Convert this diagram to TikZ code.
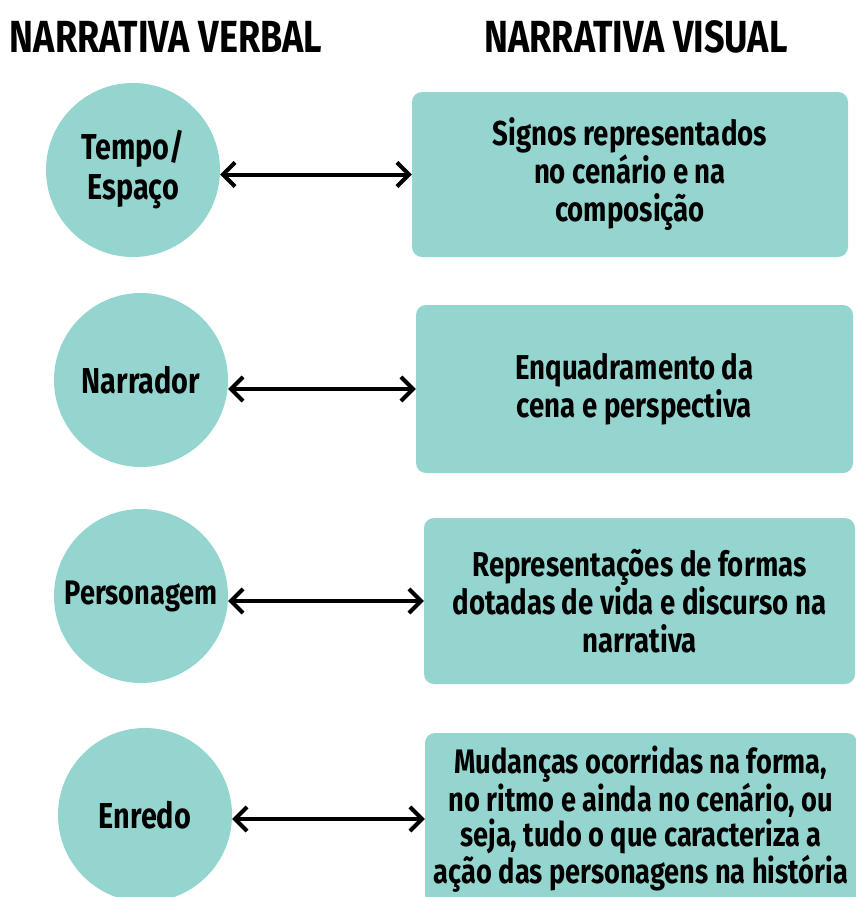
\documentclass[tikz,border=0pt]{standalone}
\usepackage{fontspec}
\setmainfont{Fira Sans}[FakeStretch=0.8]
\usepackage{tikz}
\usetikzlibrary{arrows.meta}
\definecolor{diagteal}{HTML}{95D5D0}

\begin{document}
\begin{tikzpicture}[
    x=1pt, y=-1pt,
    every node/.style={font=\bfseries, text=black},
    heading/.style={font=\bfseries\fontsize{45}{48}\selectfont},
    verbal/.style={circle, fill=diagteal, minimum size=174pt, inner sep=0pt, align=center, font=\bfseries\fontsize{36}{40}\selectfont},
    visual/.style={rounded corners=10pt, fill=diagteal, inner sep=0pt, align=center, font=\bfseries\fontsize{34.5}{38}\selectfont}
]
    \useasboundingbox (0,0) rectangle (855,897);

    \node[heading] (hverbal) at (166,37) {NARRATIVA VERBAL};
    \node[heading] (hvisual) at (636,37) {NARRATIVA VISUAL};

    \node[verbal] (tempo) at (133,170) {Tempo/\\Espaço};
    \node[verbal] (narrador) at (141,380) {Narrador};
    \node[verbal, font=\bfseries\fontsize{34}{40}\selectfont] (personagem) at (141,596) {Personagem};
    \node[verbal] (enredo) at (145,815) {Enredo};

    \node[visual, minimum width=436pt, minimum height=165pt] (signos) at (630,174.5) {Signos representados\\no cenário e na\\composição};
    \node[visual, minimum width=437pt, minimum height=168pt] (enquadramento) at (634.5,389) {Enquadramento da\\cena e perspectiva};
    \node[visual, minimum width=431pt, minimum height=166pt] (representacoes) at (639.5,601) {Representações de formas\\dotadas de vida e discurso na\\narrativa};
    \node[visual, minimum width=432pt, minimum height=172pt, font=\bfseries\fontsize{34}{34.5}\selectfont] (mudancas) at (641,819) {Mudanças ocorridas na forma,\\no ritmo e ainda no cenário, ou\\seja, tudo o que caracteriza a\\ação das personagens na história};

    \draw[{Straight Barb[length=12pt,width=24pt]}-{Straight Barb[length=12pt,width=24pt]}, line width=4pt, line cap=round] (tempo.east |- signos.west) -- (signos.west);
    \draw[{Straight Barb[length=12pt,width=24pt]}-{Straight Barb[length=12pt,width=24pt]}, line width=4pt, line cap=round] (narrador.east |- enquadramento.west) -- (enquadramento.west);
    \draw[{Straight Barb[length=12pt,width=24pt]}-{Straight Barb[length=12pt,width=24pt]}, line width=4pt, line cap=round] (personagem.east |- representacoes.west) -- (representacoes.west);
    \draw[{Straight Barb[length=12pt,width=24pt]}-{Straight Barb[length=12pt,width=24pt]}, line width=4pt, line cap=round] (enredo.east |- mudancas.west) -- (mudancas.west);
\end{tikzpicture}
\end{document}
